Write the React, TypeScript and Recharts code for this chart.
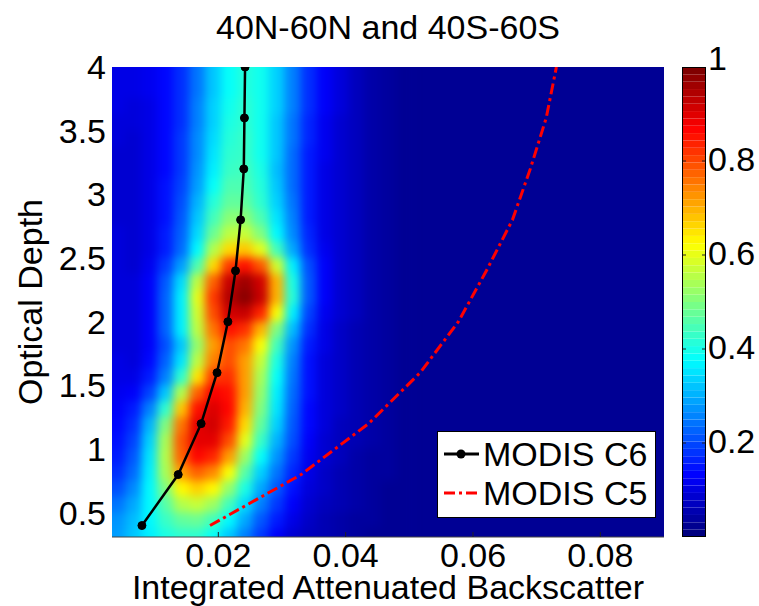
import {
  ComposedChart,
  BarChart,
  Bar,
  Scatter,
  Line,
  XAxis,
  YAxis,
  CartesianGrid,
  Legend,
  Label,
} from "recharts";

const FONT = '"Liberation Sans", Arial, Helvetica, sans-serif';
const TITLE = "40N-60N and 40S-60S";
const X_LABEL = "Integrated Attenuated Backscatter";
const Y_LABEL = "Optical Depth";

const X_DOMAIN: [number, number] = [0.0033, 0.09];
const Y_DOMAIN: [number, number] = [0.31, 4];
const X_TICKS = [0.02, 0.04, 0.06, 0.08];
const Y_TICKS = [0.5, 1, 1.5, 2, 2.5, 3, 3.5, 4];
const CBAR_TICKS = [0.2, 0.4, 0.6, 0.8, 1];
const CBAR_LEVELS = 64;
const SERIES_ORDER = ["MODIS C6", "MODIS C5"];

// optical depth nodes shared by both MODIS curves
const OD = [0.4, 0.8, 1.2, 1.6, 2.0, 2.4, 2.8, 3.2, 3.6, 4.0];
const C6_IAB = [0.008, 0.0137, 0.0173, 0.0198, 0.0215, 0.0227, 0.0235, 0.024, 0.0241, 0.0242];
const C5_IAB = [0.0187, 0.033, 0.0436, 0.0517, 0.0577, 0.0621, 0.0662, 0.069, 0.0715, 0.0731];

// normalised density (percent), IAB bins left to right, optical depth bins top to bottom
const HEAT_X0 = 0.003;
const HEAT_DX = 0.0025;
const HEAT_Y_TOP = 4.0;
const HEAT_DY = 0.125;
const HEAT_BASE = 0.02;
const HEAT = [
  [10, 10, 11, 13, 17, 24, 32, 38, 41, 39, 33, 25, 17, 12, 9, 6, 4, 3, 2],
  [10, 10, 11, 13, 17, 24, 32, 38, 41, 39, 33, 25, 17, 12, 9, 6, 4, 3, 2],
  [10, 9, 10, 13, 17, 25, 33, 39, 42, 39, 33, 25, 17, 12, 9, 6, 4, 3, 2],
  [9, 9, 10, 13, 17, 25, 33, 40, 42, 39, 32, 24, 16, 11, 8, 6, 4, 3, 2],
  [9, 8, 10, 13, 18, 26, 34, 41, 43, 39, 32, 24, 16, 11, 8, 6, 4, 3, 2],
  [8, 8, 10, 13, 18, 26, 35, 42, 43, 39, 32, 23, 15, 11, 8, 6, 4, 3, 2],
  [8, 8, 10, 13, 18, 27, 36, 43, 44, 40, 31, 23, 15, 10, 8, 6, 4, 3, 2],
  [8, 8, 10, 14, 19, 28, 38, 45, 45, 41, 32, 23, 15, 10, 8, 6, 4, 3, 2],
  [8, 8, 10, 14, 20, 30, 41, 47, 47, 42, 33, 24, 15, 10, 8, 6, 4, 3, 2],
  [8, 8, 10, 14, 21, 32, 44, 51, 51, 45, 35, 25, 15, 10, 8, 6, 4, 3, 2],
  [9, 8, 10, 15, 22, 34, 48, 56, 57, 50, 37, 26, 16, 10, 8, 6, 4, 3, 2],
  [9, 8, 10, 15, 23, 37, 55, 66, 68, 60, 44, 29, 17, 11, 8, 6, 4, 3, 2],
  [9, 8, 11, 18, 28, 45, 66, 82, 86, 79, 58, 36, 20, 12, 8, 6, 4, 3, 2],
  [9, 9, 12, 21, 34, 56, 78, 93, 97, 92, 70, 40, 21, 12, 8, 6, 4, 3, 2],
  [9, 9, 12, 22, 36, 60, 82, 95, 99, 93, 70, 41, 21, 12, 8, 6, 4, 3, 2],
  [9, 9, 12, 22, 36, 58, 80, 92, 93, 84, 62, 36, 19, 11, 8, 6, 4, 3, 2],
  [9, 9, 12, 22, 36, 56, 76, 86, 83, 70, 50, 31, 17, 10, 7, 5, 4, 3, 2],
  [9, 9, 12, 20, 32, 52, 72, 80, 76, 62, 44, 27, 15, 10, 7, 5, 4, 3, 2],
  [10, 9, 13, 22, 35, 56, 75, 80, 72, 57, 40, 25, 14, 9, 7, 5, 4, 3, 2],
  [10, 10, 15, 25, 42, 65, 82, 83, 72, 54, 38, 24, 14, 9, 7, 5, 4, 3, 2],
  [11, 12, 19, 32, 55, 78, 88, 86, 72, 52, 36, 23, 14, 9, 7, 5, 4, 3, 2],
  [12, 15, 25, 42, 68, 86, 91, 87, 70, 50, 35, 22, 13, 9, 7, 5, 4, 3, 2],
  [13, 17, 30, 50, 76, 90, 92, 85, 66, 47, 33, 21, 13, 9, 6, 5, 4, 3, 2],
  [14, 19, 33, 54, 79, 90, 90, 80, 60, 43, 30, 20, 12, 8, 6, 5, 4, 3, 2],
  [15, 21, 35, 55, 78, 87, 84, 72, 53, 38, 27, 18, 11, 8, 6, 4, 3, 3, 2],
  [17, 23, 36, 54, 72, 78, 74, 62, 46, 33, 24, 16, 10, 7, 5, 4, 3, 3, 2],
  [20, 26, 37, 50, 63, 67, 63, 52, 40, 29, 21, 14, 9, 7, 5, 4, 3, 2, 2],
  [24, 29, 37, 46, 55, 57, 53, 44, 34, 25, 18, 12, 8, 6, 5, 4, 3, 2, 2],
  [27, 31, 37, 43, 47, 48, 44, 37, 29, 21, 15, 10, 7, 5, 4, 3, 3, 2, 2],
  [28, 32, 36, 40, 42, 42, 38, 32, 25, 18, 12, 8, 6, 5, 4, 3, 2, 2, 2],
];

// layout of the axes box inside the 759x606 figure
const W = 759;
const H = 606;
const PLOT = { left: 112, top: 67, right: 664, bottom: 537 };
const CBAR = { left: 682, right: 706 };
const PX_PER_X = (PLOT.right - PLOT.left) / (X_DOMAIN[1] - X_DOMAIN[0]);
const PX_PER_Y = (PLOT.bottom - PLOT.top) / (Y_DOMAIN[1] - Y_DOMAIN[0]);
const EDGE_PAD = 24;

const jet = (v: number) => {
  const c = (t: number) => Math.round(255 * Math.min(1, Math.max(0, t)));
  return `rgb(${c(1.5 - Math.abs(4 * v - 3))},${c(1.5 - Math.abs(4 * v - 2))},${c(1.5 - Math.abs(4 * v - 1))})`;
};

const c6Data = OD.map((y, i) => ({ x: C6_IAB[i], y }));
const c5Data = OD.map((y, i) => ({ x: C5_IAB[i], y }));

const heatCells = HEAT.flatMap((row, j) =>
  row.map((p, i) => ({
    x: HEAT_X0 + (i + 0.5) * HEAT_DX,
    y: HEAT_Y_TOP - (j + 0.5) * HEAT_DY,
    v: p / 100,
    i,
    j,
  }))
);

// colour bar: one stacked segment per colormap level
const cbarKeys = Array.from({ length: CBAR_LEVELS }, (_, k) => `l${k}`);
const cbarRow = Object.fromEntries([["name", "cbar"], ...cbarKeys.map((key) => [key, 1 / CBAR_LEVELS])]);

const LEGEND_STYLE: Record<string, { dash?: string; dot?: boolean }> = {
  "MODIS C6": { dot: true },
  "MODIS C5": { dash: "11 4 3 4" },
};

// one pcolor cell; edge cells are stretched outward so the smoothing does not fade at the frame
const HeatCell = (props: any) => {
  const { cx, cy, payload } = props;
  const w = HEAT_DX * PX_PER_X + 1;
  const h = HEAT_DY * PX_PER_Y + 1;
  let x = cx - w / 2;
  let y = cy - h / 2;
  let ww = w;
  let hh = h;
  if (payload.i === 0) {
    x -= EDGE_PAD;
    ww += EDGE_PAD;
  }
  if (payload.j === 0) {
    y -= EDGE_PAD;
    hh += EDGE_PAD;
  }
  if (payload.j === HEAT.length - 1) hh += EDGE_PAD;
  return <rect x={x} y={y} width={ww} height={hh} fill={jet(payload.v)} />;
};

const XTick = ({ x, y, payload }: any) => (
  <g>
    <line x1={x} x2={x} y1={y - 6} y2={y - 11} stroke="#222" strokeWidth={1} />
    <text x={x} y={y} dy="0.71em" textAnchor="middle" fontSize={34} fontFamily={FONT} fill="#000">
      {payload.value}
    </text>
  </g>
);

const CbarTick = ({ x, y, payload }: any) => {
  const right = x - 2;
  const left = right - (CBAR.right - CBAR.left);
  const top = payload.value === 1;
  return (
    <g>
      {!top && <line x1={left} x2={left + 4} y1={y} y2={y} stroke="#222" />}
      {!top && <line x1={right - 4} x2={right} y1={y} y2={y} stroke="#222" />}
      <text x={x} y={y} dy={top ? "0.1em" : "0.28em"} textAnchor="start" fontSize={34} fontFamily={FONT} fill="#000">
        {payload.value}
      </text>
    </g>
  );
};

const LegendBox = ({ payload }: any) => {
  const items = (payload ?? [])
    .filter((e: any) => SERIES_ORDER.includes(e.value))
    .sort((a: any, b: any) => SERIES_ORDER.indexOf(a.value) - SERIES_ORDER.indexOf(b.value));
  return (
    <div
      style={{
        position: "relative",
        width: 219,
        height: 87,
        boxSizing: "border-box",
        background: "#fff",
        border: "1px solid #000",
        fontFamily: FONT,
        fontSize: 34,
        color: "#000",
      }}
    >
      {items.map((entry: any, k: number) => {
        const st = LEGEND_STYLE[entry.value] ?? {};
        return (
          <div
            key={entry.value}
            style={{ position: "absolute", left: 5, top: 3 + k * 39, height: 38, display: "flex", alignItems: "center" }}
          >
            <svg width={38} height={20}>
              <line x1={1} x2={36} y1={10} y2={10} stroke={entry.color} strokeWidth={3} strokeDasharray={st.dash} />
              {st.dot && <circle cx={18} cy={10} r={4.5} fill={entry.color} />}
            </svg>
            <span style={{ marginLeft: 2, lineHeight: "38px" }}>{entry.value}</span>
          </div>
        );
      })}
    </div>
  );
};

export default function App() {
  return (
    <div style={{ position: "relative", width: W, height: H, background: "#fff", fontFamily: FONT }}>
      <style>{"body{margin:0}.heat-layer{filter:url(#heatBlur)}"}</style>
      <svg width={0} height={0} style={{ position: "absolute" }}>
        <defs>
          <filter id="heatBlur" x="-10%" y="-10%" width="120%" height="120%" colorInterpolationFilters="sRGB">
            <feGaussianBlur stdDeviation={5} />
          </filter>
        </defs>
      </svg>

      <div
        style={{
          position: "absolute",
          left: PLOT.left,
          width: PLOT.right - PLOT.left,
          top: 7,
          textAlign: "center",
          fontSize: 34,
          lineHeight: "40px",
          color: "#000",
        }}
      >
        {TITLE}
      </div>

      <div style={{ position: "absolute", left: 0, top: 0 }}>
        <ComposedChart
          width={W}
          height={H}
          margin={{ top: PLOT.top, right: W - PLOT.right, bottom: 0, left: 0 }}
        >
          <CartesianGrid horizontal={false} vertical={false} fill={jet(HEAT_BASE)} />
          <XAxis
            type="number"
            dataKey="x"
            domain={X_DOMAIN}
            ticks={X_TICKS}
            allowDataOverflow
            height={H - PLOT.bottom}
            tickSize={0}
            tickMargin={6}
            tick={<XTick />}
            axisLine={{ stroke: "#444", strokeWidth: 1 }}
          >
            <Label
              content={({ viewBox }: any) => (
                <text
                  x={viewBox.x + viewBox.width / 2}
                  y={viewBox.y + 62}
                  textAnchor="middle"
                  fontSize={34}
                  fontFamily={FONT}
                  fill="#000"
                >
                  {X_LABEL}
                </text>
              )}
            />
          </XAxis>
          <YAxis
            type="number"
            dataKey="y"
            domain={Y_DOMAIN}
            ticks={Y_TICKS}
            allowDataOverflow
            width={PLOT.left}
            tickSize={0}
            tickMargin={6}
            axisLine={false}
            tick={{ fontSize: 34, fontFamily: FONT, fill: "#000" }}
          >
            <Label
              content={({ viewBox }: any) => {
                const cx = viewBox.x + 42;
                const cy = viewBox.y + viewBox.height / 2;
                return (
                  <text
                    x={cx}
                    y={cy}
                    transform={`rotate(-90 ${cx} ${cy})`}
                    textAnchor="middle"
                    fontSize={34}
                    fontFamily={FONT}
                    fill="#000"
                  >
                    {Y_LABEL}
                  </text>
                );
              }}
            />
          </YAxis>
          <Scatter
            className="heat-layer"
            data={heatCells}
            shape={<HeatCell />}
            legendType="none"
            zIndex={0}
            isAnimationActive={false}
          />
          <Line
            name="MODIS C6"
            data={c6Data}
            dataKey="y"
            stroke="#000"
            strokeWidth={2.5}
            dot={{ r: 4, fill: "#000", stroke: "#000", strokeWidth: 1 }}
            isAnimationActive={false}
          />
          <Line
            name="MODIS C5"
            data={c5Data}
            dataKey="y"
            stroke="#ff0000"
            strokeWidth={3}
            strokeDasharray="11 4 3 4"
            dot={false}
            isAnimationActive={false}
          />
          <Legend
            layout="horizontal"
            verticalAlign="middle"
            align="center"
            itemSorter={null}
            content={<LegendBox />}
            wrapperStyle={{ left: 437, top: 431, width: 219, height: 87 }}
          />
        </ComposedChart>
      </div>

      <div style={{ position: "absolute", left: 0, top: 0, pointerEvents: "none" }}>
        <BarChart
          width={W}
          height={H}
          data={[cbarRow]}
          barCategoryGap={0}
          margin={{ top: PLOT.top, right: 0, bottom: H - PLOT.bottom, left: CBAR.left }}
        >
          <XAxis type="category" dataKey="name" hide />
          <YAxis
            type="number"
            orientation="right"
            domain={[0, 1]}
            ticks={CBAR_TICKS}
            width={W - CBAR.right}
            tickSize={0}
            tickMargin={2}
            axisLine={false}
            tick={<CbarTick />}
          />
          {cbarKeys.map((key, k) => (
            <Bar
              key={key}
              dataKey={key}
              stackId="cbar"
              fill={jet(k / (CBAR_LEVELS - 1))}
              stroke="none"
              isAnimationActive={false}
            />
          ))}
        </BarChart>
        <div
          style={{
            position: "absolute",
            left: CBAR.left,
            top: PLOT.top,
            width: CBAR.right - CBAR.left,
            height: PLOT.bottom - PLOT.top,
            boxSizing: "border-box",
            border: "1px solid #000",
          }}
        />
      </div>
    </div>
  );
}
